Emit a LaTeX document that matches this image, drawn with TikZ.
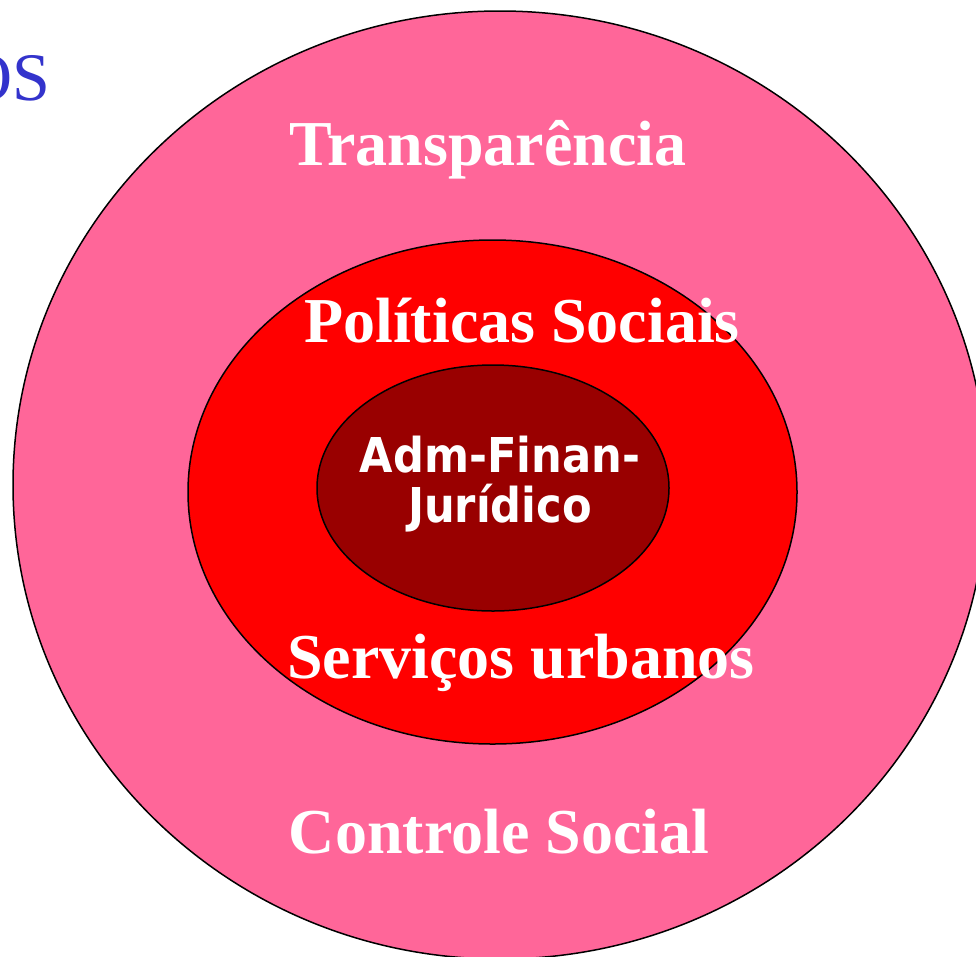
\documentclass[tikz,border=0pt]{standalone}
\usepackage{fontspec}
\setmainfont{Liberation Serif}
\newfontfamily\admfont[FakeStretch=0.9]{DejaVu Sans}
\definecolor{outerpink}{HTML}{FF6699}
\definecolor{midred}{HTML}{FF0000}
\definecolor{coredark}{HTML}{990000}
\definecolor{titleblue}{HTML}{3333CC}
\begin{document}
\begin{tikzpicture}[x=1pt,y=-1pt,
  ring/.style={draw=black,line width=1.5pt},
  ringtext/.style={text=white,font=\fontsize{64}{70}\selectfont\bfseries,inner sep=0pt,anchor=base},
  coretext/.style={text=white,font=\admfont\bfseries\fontsize{48}{50}\selectfont,inner sep=0pt,anchor=base}]
\useasboundingbox (0,0) rectangle (976,956);
\clip (0,0) rectangle (976,956);
\fill[white] (0,0) rectangle (976,956);
\draw[ring,fill=outerpink] (500,485) ellipse [x radius=487pt, y radius=474pt];
\draw[ring,fill=midred] (492.5,492) ellipse [x radius=304.5pt, y radius=252pt];
\draw[ring,fill=coredark] (493,488) ellipse [x radius=176pt, y radius=123pt];
\node[text=titleblue,font=\fontsize{68}{72}\selectfont,inner sep=0pt,anchor=base east] (title) at (51,100) {OS};
\node[ringtext] (transp) at (488,165) {Transparência};
\node[ringtext] (polit) at (522,342) {Políticas Sociais};
\node[ringtext] (serv) at (521,678) {Serviços urbanos};
\node[ringtext] (ctrl) at (499,853) {Controle Social};
\node[coretext] (adm1) at (500,472) {Adm-Finan-};
\node[coretext] (adm2) at (500,522) {Jurídico};
\end{tikzpicture}
\end{document}
